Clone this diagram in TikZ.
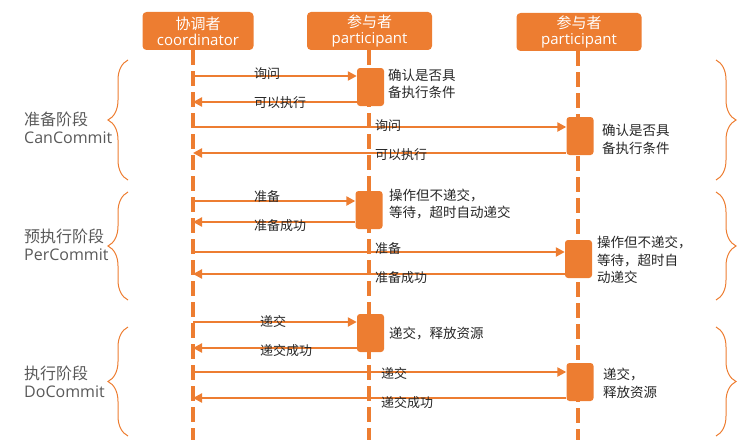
\documentclass[tikz,border=0pt]{standalone}
\usepackage{fontspec}
\setmainfont{Open Sans}
\newfontfamily\cjk{Noto Sans CJK SC}
\usetikzlibrary{arrows.meta,decorations.pathreplacing}
\definecolor{ora}{HTML}{ED7D31}

\begin{document}
\begin{tikzpicture}[x=1pt, y=-1pt,
    role/.style={fill=ora, rounded corners=4pt, minimum width=111pt, minimum height=38pt,
      inner sep=0pt, align=center, text=white, font=\fontsize{15}{16}\selectfont},
    act/.style={fill=ora, rounded corners=3pt, minimum width=27pt, minimum height=38pt, inner sep=0pt},
    life/.style={ora, line width=3.5pt, dash pattern=on 15pt off 6pt},
    msg/.style={ora, line width=2.8pt, -{Triangle[length=9pt,width=9pt]}},
    lbl/.style={anchor=west, inner sep=0pt, text=black!85, font=\cjk\fontsize{13}{15}\selectfont},
    memo/.style={anchor=west, inner sep=0pt, align=left, text=black!85, font=\cjk\fontsize{13.5}{17.5}\selectfont},
    phase/.style={anchor=west, inner sep=0pt, align=left, text=black!65, font=\fontsize{16}{18}\selectfont},
    curly/.style={ora, line width=1pt, decorate, decoration={brace, amplitude=20pt}}]

  \useasboundingbox (0,0) rectangle (749,444);

  % roles and lifelines
  \node[role] (coord) at (198,31) {{\cjk 协调者}\\coordinator};
  \node[role, minimum width=125pt] (partA) at (369.5,31) {{\cjk 参与者}\\participant};
  \node[role, minimum width=125pt] (partB) at (579,32) {{\cjk 参与者}\\participant};
  \coordinate (cl) at (193,50);

  \draw[life] (cl) -- (cl |- 0,440);
  \draw[life] (partA.south -| 369,0) -- (369,440);
  \draw[life] (partB.south -| 578,0) -- (578,440);

  % activations
  \node[act] (a1) at (370.5,87)  {};
  \node[act] (b1) at (580,136)   {};
  \node[act] (a2) at (369,210)   {};
  \node[act] (b2) at (578.5,259) {};
  \node[act] (a3) at (370.5,333) {};
  \node[act] (b3) at (580,382)   {};

  % CanCommit
  \draw[msg] (cl |- 0,76)   -- (a1.west |- 0,76);
  \draw[msg] (a1.west |- 0,102) -- (cl |- 0,102);
  \draw[msg] (cl |- 0,127)  -- (b1.west |- 0,127);
  \draw[msg] (b1.west |- 0,153) -- (cl |- 0,153);

  % PerCommit
  \draw[msg] (cl |- 0,201)  -- (a2.west |- 0,201);
  \draw[msg] (a2.west |- 0,222) -- (cl |- 0,222);
  \draw[msg] (cl |- 0,252)  -- (b2.west |- 0,252);
  \draw[msg] (b2.west |- 0,274) -- (cl |- 0,274);

  % DoCommit
  \draw[msg] (cl |- 0,322)  -- (a3.west |- 0,322);
  \draw[msg] (a3.west |- 0,348) -- (cl |- 0,348);
  \draw[msg] (cl |- 0,372)  -- (b3.west |- 0,372);
  \draw[msg] (b3.west |- 0,398) -- (cl |- 0,398);

  % message labels
  \node[lbl] (m1)  at (254,74)  {询问};
  \node[lbl] (m2)  at (254,103) {可以执行};
  \node[lbl] (m3)  at (375,126) {询问};
  \node[lbl] (m4)  at (375,155) {可以执行};
  \node[lbl] (m5)  at (254,197) {准备};
  \node[lbl] (m6)  at (254,226) {准备成功};
  \node[lbl] (m7)  at (375,249) {准备};
  \node[lbl] (m8)  at (375,278) {准备成功};
  \node[lbl] (m9)  at (260,322) {递交};
  \node[lbl] (m10) at (260,351) {递交成功};
  \node[lbl] (m11) at (381,374) {递交};
  \node[lbl] (m12) at (381,403) {递交成功};

  % what the participants do
  \node[memo] (n1) at (388,84)    {确认是否具\\备执行条件};
  \node[memo] (n2) at (602,139.5) {确认是否具\\备执行条件};
  \node[memo] (n3) at (389,204)   {操作但不递交，\\等待，超时自动递交};
  \node[memo] (n4) at (597,260)   {操作但不递交，\\等待，超时自\\动递交};
  \node[memo] (n5) at (389,333)   {递交，释放资源};
  \node[memo] (n6) at (603,383.5) {递交，\\释放资源};

  % phases
  \node[phase] (p1) at (24,128) {{\cjk 准备阶段}\\CanCommit};
  \node[phase] (p2) at (24,245) {{\cjk 预执行阶段}\\PerCommit};
  \node[phase] (p3) at (24,382) {{\cjk 执行阶段}\\DoCommit};

  \draw[curly] (128,180) -- (128,60);
  \draw[curly] (128,300) -- (128,192);
  \draw[curly] (128,436) -- (128,327);
  \draw[curly] (716,60)  -- (716,180);
  \draw[curly] (716,192) -- (716,300);
  \draw[curly] (716,327) -- (716,436);
\end{tikzpicture}
\end{document}
